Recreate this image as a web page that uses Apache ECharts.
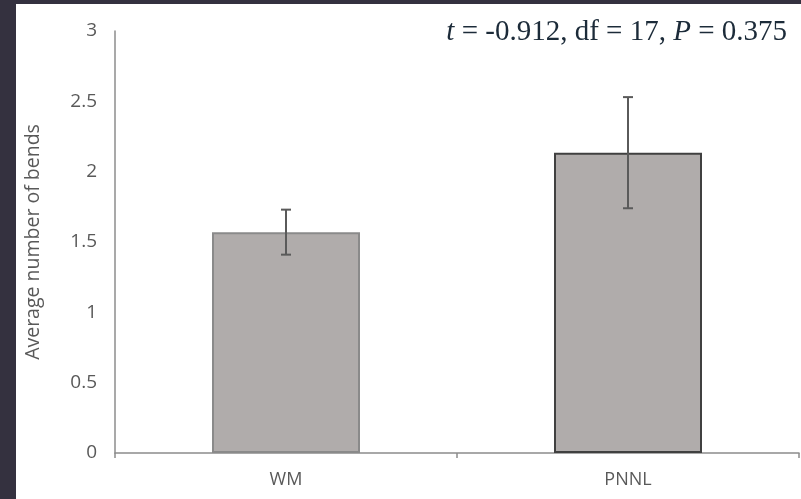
<!DOCTYPE html>
<html><head><meta charset="utf-8">
<script src="https://cdn.jsdelivr.net/npm/echarts@6/dist/echarts.min.js"></script>
<style>html,body{margin:0;padding:0;background:#34313f;}#c{position:absolute;left:0;top:0;width:801px;height:499px;}</style>
</head><body><div id="c"></div>
<script>
const categories = ['WM', 'PNNL'];
const means = [1.57, 2.135];
const errors = [0.16, 0.395];
const yTicks = [0, 0.5, 1, 1.5, 2, 2.5, 3];
const annotation = 't = -0.912, df = 17, P = 0.375';

const chart = echarts.init(document.getElementById('c'));
const borderColors = ['#8a8a8a', '#404040'];
chart.setOption({
  backgroundColor: 'transparent',
  animation: false,
  graphic: [
    {type:'rect', shape:{x:16,y:4,width:785,height:495}, style:{fill:'#ffffff'}, z:-10},
    {type:'text', right: 14, top: 18,
     style:{rich:{i:{fontFamily:'Liberation Serif',fontStyle:'italic',fontSize:29,fill:'#1c2b39'},n:{fontFamily:'Liberation Serif',fontSize:29,fill:'#1c2b39'}},
       text:'{i|t}{n| = -0.912, df = 17, }{i|P}{n| = 0.375}'}}
  ],
  grid: {left: 115, right: 2, top: 31, bottom: 46, containLabel: false},
  xAxis: {
    type: 'category', data: categories,
    axisLine: {lineStyle: {color: '#8c8c8c', width: 1.5}},
    axisTick: {show: true, length: 5, lineStyle: {color: '#8c8c8c', width: 1.5}},
    axisLabel: {color: '#595959', fontSize: 18, fontFamily: 'Open Sans', margin: 18}
  },
  yAxis: {
    type: 'value', min: 0, max: 3, interval: 0.5,
    name: 'Average number of bends', nameLocation: 'middle', nameGap: 72,
    nameTextStyle: {color: '#595959', fontSize: 19.5, fontFamily: 'Open Sans'},
    axisLine: {show: true, lineStyle: {color: '#8c8c8c', width: 1.5}},
    axisTick: {show: false},
    splitLine: {show: false},
    axisLabel: {color: '#595959', fontSize: 19, fontFamily: 'Open Sans', margin: 18,
      formatter: v => yTicks.includes(v) ? String(v) : ''}
  },
  series: [
    {
      type: 'bar', barWidth: 148,
      data: means.map((v, i) => ({value: v, itemStyle: {color: '#b0acab', borderColor: borderColors[i], borderWidth: 2}})),
      z: 2
    },
    {
      type: 'custom', z: 5,
      data: means.map((m, i) => [i, m - errors[i], m + errors[i]]),
      renderItem: function (params, api) {
        const lo = api.coord([api.value(0), api.value(1)]);
        const hi = api.coord([api.value(0), api.value(2)]);
        const hw = 5;
        const st = {stroke: '#5a5a5a', lineWidth: 2};
        return {type: 'group', children: [
          {type: 'line', shape: {x1: lo[0], y1: lo[1], x2: hi[0], y2: hi[1]}, style: st},
          {type: 'line', shape: {x1: lo[0]-hw, y1: lo[1], x2: lo[0]+hw, y2: lo[1]}, style: st},
          {type: 'line', shape: {x1: hi[0]-hw, y1: hi[1], x2: hi[0]+hw, y2: hi[1]}, style: st}
        ]};
      }
    }
  ]
});
</script></body></html>
